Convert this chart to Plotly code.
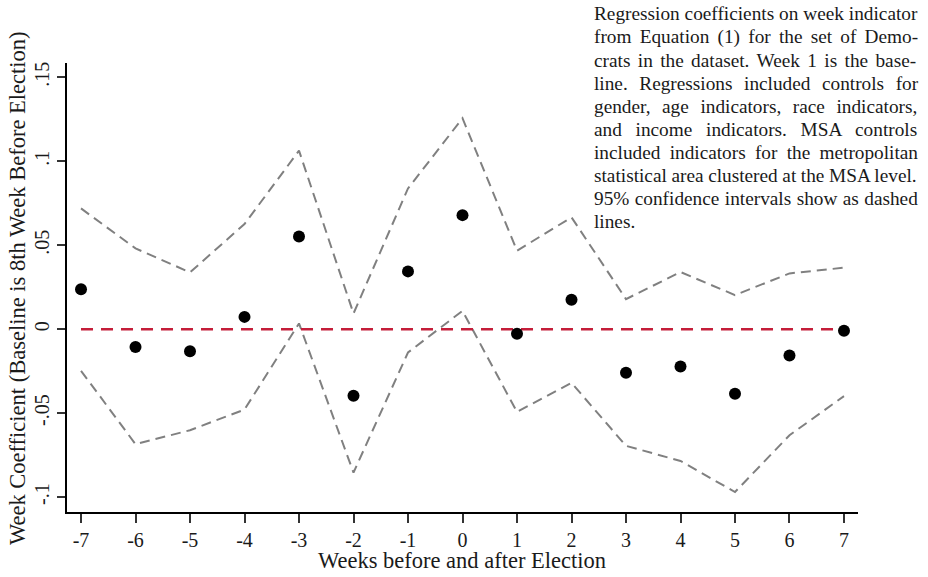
import plotly.graph_objects as go

weeks = [-7, -6, -5, -4, -3, -2, -1, 0, 1, 2, 3, 4, 5, 6, 7]
coef = [0.0237, -0.0107, -0.0131, 0.0073, 0.0552, -0.0397, 0.0344, 0.0679,
        -0.0028, 0.0175, -0.0260, -0.0222, -0.0385, -0.0157, -0.0010]
ci_upper = [0.0719, 0.0481, 0.0338, 0.0626, 0.1063, 0.0093, 0.0838, 0.1256,
            0.0467, 0.0666, 0.0179, 0.0340, 0.0203, 0.0332, 0.0366]
ci_lower = [-0.0248, -0.0685, -0.0602, -0.0479, 0.0034, -0.0854, -0.0139, 0.0109,
            -0.0493, -0.0320, -0.0695, -0.0785, -0.0970, -0.0632, -0.0399]
zero_x = [-7, 7]
zero_y = [0, 0]

y_tickvals = [-0.1, -0.05, 0, 0.05, 0.1, 0.15]
y_ticktext = ["-.1", "-.05", "0", ".05", ".1", ".15"]
x_tickvals = weeks
x_ticktext = [str(w) for w in weeks]

x_title = "Weeks before and after Election"
y_title = "Week Coefficient (Baseline is 8th Week Before Election)"

note_lines = [
    "Regression coefficients on week indicator",
    "from Equation (1) for the set of Demo-",
    "crats in the dataset. Week 1 is the base-",
    "line. Regressions included controls for",
    "gender, age indicators, race indicators,",
    "and income indicators. MSA controls",
    "included indicators for the metropolitan",
    "statistical area clustered at the MSA level.",
    "95% confidence intervals show as dashed",
    "lines.",
]

FONT = "Liberation Serif, Times New Roman, serif"
TXT = "#1a1a1a"
W, H = 928, 577
ML, MR, MT, MB = 67, 70, 63, 65
PW, PH = W - ML - MR, H - MT - MB


def px_x(x):
    return (x - ML) / PW


def px_y(y):
    return 1 - (y - MT) / PH


# Times metrics (per 1000 em) for justification
WID = {' ': 250, '%': 833, '(': 333, ')': 333, ',': 250, '-': 333, '.': 250}
for d in "0123456789":
    WID[d] = 500
WID.update(dict(zip("ABCDEFGHIJKLMNOPQRSTUVWXYZ",
    [722, 667, 667, 722, 611, 556, 722, 722, 333, 389, 722, 611, 889, 722, 722,
     556, 722, 667, 556, 611, 722, 722, 944, 722, 722, 611])))
WID.update(dict(zip("abcdefghijklmnopqrstuvwxyz",
    [444, 500, 444, 500, 444, 333, 500, 500, 278, 278, 500, 278, 778, 500, 500,
     500, 500, 333, 389, 278, 500, 500, 722, 500, 500, 444])))

NOTE_FS = 19.3
NOTE_X0, NOTE_X1 = 593, 921
NOTE_Y0, NOTE_DY = 14, 23.1

fig = go.Figure()
fig.add_trace(go.Scatter(x=weeks, y=ci_upper, mode="lines",
                         line=dict(color="#808080", width=2, dash="10px,6px"),
                         hoverinfo="skip"))
fig.add_trace(go.Scatter(x=weeks, y=ci_lower, mode="lines",
                         line=dict(color="#808080", width=2, dash="10px,6px"),
                         hoverinfo="skip"))
fig.add_trace(go.Scatter(x=zero_x, y=zero_y, mode="lines",
                         line=dict(color="#c41e3a", width=2.5, dash="12px,8px"),
                         hoverinfo="skip"))
fig.add_trace(go.Scatter(x=weeks, y=coef, mode="markers",
                         marker=dict(color="black", size=12)))

annotations = []
for i, ln in enumerate(note_lines):
    natural = sum(WID.get(c, 500) for c in ln) / 1000.0 * NOTE_FS * 1.012
    nsp = ln.count(" ")
    if i < len(note_lines) - 1 and nsp > 0:
        ws = (NOTE_X1 - NOTE_X0 - natural) / nsp
        txt = '<span style="word-spacing:%.2fpx">%s</span>' % (ws, ln)
    else:
        txt = ln
    yc = NOTE_Y0 + i * NOTE_DY
    annotations.append(dict(
        text=txt, xref="paper", yref="paper",
        x=px_x(NOTE_X0 - 1), y=px_y(yc),
        xanchor="left", yanchor="middle", showarrow=False,
        font=dict(family=FONT, size=NOTE_FS, color=TXT)))

# axis titles
annotations.append(dict(text=x_title, xref="paper", yref="paper",
                        x=px_x(462), y=px_y(560), xanchor="center", yanchor="middle",
                        showarrow=False, font=dict(family=FONT, size=22.5, color=TXT)))
annotations.append(dict(text=y_title, xref="paper", yref="paper",
                        x=px_x(17), y=px_y(288), xanchor="center", yanchor="middle",
                        textangle=-90, showarrow=False,
                        font=dict(family=FONT, size=22.5, color=TXT)))

fig.update_layout(
    width=W, height=H,
    margin=dict(l=ML, r=MR, t=MT, b=MB, autoexpand=False),
    paper_bgcolor="white", plot_bgcolor="white",
    showlegend=False,
    font=dict(family=FONT, color=TXT),
    annotations=annotations,
    xaxis=dict(range=[-7.257, 7.257], tickvals=x_tickvals, ticktext=x_ticktext,
               showgrid=False, zeroline=False, showline=True, linecolor="black",
               linewidth=1.5, ticks="outside", ticklen=9, tickwidth=1.5,
               tickcolor="#333333", tickfont=dict(size=20, family=FONT, color=TXT)),
    yaxis=dict(range=[-0.1089, 0.1585], tickvals=y_tickvals, ticktext=y_ticktext,
               showgrid=False, zeroline=False, showline=True, linecolor="black",
               linewidth=1.5, ticks="outside", ticklen=8, tickwidth=1.5,
               tickcolor="#333333", tickangle=-90,
               tickfont=dict(size=20, family=FONT, color=TXT)),
)

fig.write_html("out.html", config={"displayModeBar": False},
               post_script="document.body.style.margin='0';document.body.style.overflow='hidden';")
